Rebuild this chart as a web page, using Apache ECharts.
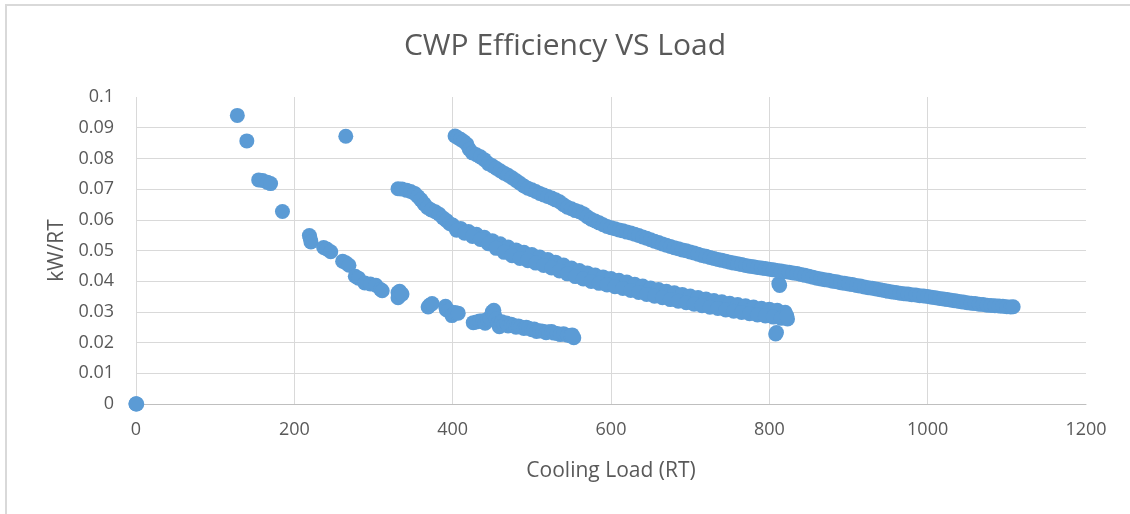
<!DOCTYPE html>
<html>
<head>
<meta charset="utf-8">
<title>CWP Efficiency VS Load</title>
<script src="https://cdn.jsdelivr.net/npm/echarts@6/dist/echarts.min.js"></script>
<style>
  html, body { margin: 0; padding: 0; background: #fff; overflow: hidden; }
  #frame {
    position: absolute; left: 5px; top: 4px; width: 1200px; height: 600px;
    border-top: 2px solid #d9d9d9; border-left: 2px solid #d9d9d9;
  }
  #chart { position: absolute; left: 0; top: 0; width: 1130px; height: 514px; }
</style>
</head>
<body>
<div id="frame"></div>
<div id="chart"></div>
<script>
// [cooling load RT, kW/RT]
var zeroPoints = [[0, 0], [1, 0], [0, 0.0001]]

var lowLoadPoints = [
  [128, 0.0940], [140, 0.0857], [155, 0.0730], [160, 0.0728], [166, 0.0722], [170, 0.0718],
  [185, 0.0627], [219, 0.0549], [220, 0.0540], [221, 0.0528], [237, 0.0510], [241, 0.0505],
  [246, 0.0496], [261, 0.0465], [265, 0.0460], [269, 0.0452], [265, 0.0872], [277, 0.0416],
  [281, 0.0410], [289, 0.0394], [296, 0.0391], [303, 0.0387], [309, 0.0373], [311, 0.0369],
  [331, 0.0363], [333, 0.0367], [331, 0.0346], [336, 0.0358], [369, 0.0316], [371, 0.0322],
  [374, 0.0327], [391, 0.0318], [392, 0.0307], [395, 0.0304], [399, 0.0288], [403, 0.0298],
  [407, 0.0296]
]

var lowCluster = [
  [426, 0.0265], [430, 0.0267], [434, 0.0270], [438, 0.0271], [441, 0.0263], [444, 0.0276],
  [447, 0.0280], [450, 0.0300], [452, 0.0305], [453, 0.0289], [455, 0.0277], [457, 0.0262],
  [459, 0.0252], [462, 0.0268], [465, 0.0259], [468, 0.0264], [470, 0.0254], [474, 0.0260],
  [477, 0.0256], [480, 0.0250], [483, 0.0254], [486, 0.0251], [490, 0.0246], [493, 0.0250],
  [496, 0.0247], [500, 0.0242], [503, 0.0244], [506, 0.0236], [510, 0.0239], [514, 0.0237],
  [518, 0.0232], [521, 0.0235], [525, 0.0236], [528, 0.0231], [532, 0.0230], [536, 0.0226],
  [540, 0.0229], [545, 0.0224], [549, 0.0222], [553, 0.0216], [551, 0.0225]
]

var middleBandStart = [
  [331, 0.0701], [336, 0.0700], [342, 0.0696], [347, 0.0692], [352, 0.0686], [356, 0.0676],
  [360, 0.0665], [364, 0.0652], [368, 0.0640], [373, 0.0632], [378, 0.0626], [383, 0.0618],
  [388, 0.0606], [392, 0.0598], [396, 0.0588]
]

var middleBandTop = [
  [400, 0.0583], [410, 0.0572], [420, 0.0562], [430, 0.0553], [440, 0.0543], [450, 0.0532],
  [460, 0.0522], [470, 0.0511], [480, 0.0502], [490, 0.0494], [500, 0.0487], [510, 0.0479],
  [520, 0.0471], [530, 0.0462], [540, 0.0453], [550, 0.0443], [560, 0.0435], [570, 0.0427],
  [580, 0.0420], [590, 0.0414], [600, 0.0409], [610, 0.0403], [620, 0.0397], [630, 0.0390],
  [640, 0.0384], [650, 0.0378], [660, 0.0373], [670, 0.0367], [680, 0.0362], [690, 0.0357],
  [700, 0.0352], [710, 0.0347], [720, 0.0342], [730, 0.0337], [740, 0.0333], [750, 0.0328],
  [760, 0.0324], [770, 0.0320], [780, 0.0316], [790, 0.0312], [800, 0.0309], [810, 0.0305],
  [820, 0.0299]
]

var middleBandBottom = [
  [405, 0.0566], [415, 0.0556], [425, 0.0546], [435, 0.0536], [445, 0.0522], [455, 0.0507],
  [465, 0.0494], [475, 0.0483], [485, 0.0474], [495, 0.0467], [505, 0.0459], [515, 0.0451],
  [525, 0.0443], [535, 0.0433], [545, 0.0424], [555, 0.0415], [565, 0.0407], [575, 0.0399],
  [585, 0.0393], [595, 0.0388], [605, 0.0382], [615, 0.0376], [625, 0.0370], [635, 0.0363],
  [645, 0.0357], [655, 0.0351], [665, 0.0346], [675, 0.0340], [685, 0.0335], [695, 0.0330],
  [705, 0.0325], [715, 0.0320], [725, 0.0315], [735, 0.0311], [745, 0.0306], [755, 0.0302],
  [765, 0.0298], [775, 0.0294], [785, 0.0290], [795, 0.0287], [805, 0.0283], [815, 0.0279],
  [823, 0.0277], [822, 0.0287], [808, 0.0228], [809, 0.0233]
]

var upperBand = [
  [403, 0.0873], [406, 0.0868], [410, 0.0862], [414, 0.0855], [418, 0.0846], [421, 0.0830],
  [425, 0.0818], [430, 0.0812], [435, 0.0805], [440, 0.0796], [445, 0.0783], [450, 0.0776],
  [455, 0.0768], [460, 0.0760], [465, 0.0752], [470, 0.0745], [475, 0.0737], [480, 0.0728],
  [485, 0.0719], [490, 0.0710], [495, 0.0703], [500, 0.0698], [505, 0.0692], [510, 0.0686],
  [515, 0.0681], [520, 0.0676], [525, 0.0671], [530, 0.0665], [535, 0.0659], [540, 0.0649],
  [545, 0.0641], [550, 0.0636], [555, 0.0630], [560, 0.0626], [565, 0.0620], [570, 0.0610],
  [575, 0.0602], [580, 0.0596], [585, 0.0590], [590, 0.0584], [595, 0.0578], [600, 0.0574],
  [605, 0.0571], [610, 0.0567], [615, 0.0564], [620, 0.0560], [625, 0.0557], [630, 0.0553],
  [635, 0.0549], [640, 0.0544], [645, 0.0540], [650, 0.0535], [655, 0.0530], [660, 0.0526],
  [665, 0.0521], [670, 0.0517], [675, 0.0513], [680, 0.0509], [685, 0.0506], [690, 0.0502],
  [695, 0.0499], [700, 0.0495], [705, 0.0492], [710, 0.0488], [715, 0.0484], [720, 0.0481],
  [725, 0.0477], [730, 0.0474], [735, 0.0471], [740, 0.0468], [745, 0.0465], [750, 0.0462],
  [755, 0.0459], [760, 0.0457], [765, 0.0454], [770, 0.0451], [775, 0.0449], [780, 0.0447],
  [785, 0.0445], [790, 0.0443], [795, 0.0441], [800, 0.0439], [805, 0.0437], [810, 0.0435],
  [812, 0.0392], [813, 0.0386], [815, 0.0433], [820, 0.0431], [825, 0.0429], [830, 0.0427],
  [835, 0.0425], [840, 0.0422], [845, 0.0419], [850, 0.0416], [855, 0.0413], [860, 0.0410],
  [865, 0.0407], [870, 0.0405], [875, 0.0403], [880, 0.0400], [885, 0.0398], [890, 0.0395],
  [895, 0.0393], [900, 0.0391], [905, 0.0389], [910, 0.0386], [915, 0.0384], [920, 0.0381],
  [925, 0.0379], [930, 0.0377], [935, 0.0375], [940, 0.0372], [945, 0.0370], [950, 0.0367],
  [955, 0.0365], [960, 0.0363], [965, 0.0361], [970, 0.0359], [975, 0.0358], [980, 0.0356],
  [985, 0.0355], [990, 0.0353], [995, 0.0352], [1000, 0.0350], [1005, 0.0348], [1010, 0.0346],
  [1015, 0.0344], [1020, 0.0342], [1025, 0.0340], [1030, 0.0338], [1035, 0.0336], [1040, 0.0334],
  [1045, 0.0332], [1050, 0.0330], [1055, 0.0328], [1060, 0.0327], [1065, 0.0325], [1070, 0.0324],
  [1075, 0.0322], [1080, 0.0321], [1085, 0.0320], [1090, 0.0319], [1095, 0.0318], [1100, 0.0317],
  [1105, 0.0316], [1108, 0.0317]
]

var textColor = '#595959'
var gridColor = '#d9d9d9'

var allPoints = [].concat(zeroPoints, lowLoadPoints, lowCluster, middleBandStart,
  middleBandTop, middleBandBottom, upperBand)

var myChart = echarts.init(document.getElementById('chart'))
myChart.setOption({
  animation: false,
  textStyle: { fontFamily: '"Open Sans", sans-serif' },
  title: {
    text: 'CWP Efficiency VS Load',
    left: 'center',
    top: 26,
    textStyle: { fontSize: 30, fontWeight: 'normal', color: textColor }
  },
  grid: { left: 136, right: 44, top: 97, bottom: 110 },
  xAxis: {
    type: 'value',
    min: 0,
    max: 1200,
    interval: 200,
    name: 'Cooling Load (RT)',
    nameLocation: 'middle',
    nameGap: 57,
    nameTextStyle: { fontSize: 21, color: textColor },
    axisLine: { show: true, lineStyle: { color: '#bfbfbf', width: 1 } },
    axisTick: { show: false },
    axisLabel: {
      color: textColor,
      fontSize: 18,
      margin: 17,
      formatter: function (v) { return String(v) }
    },
    splitLine: { show: true, showMaxLine: false, lineStyle: { color: gridColor } }
  },
  yAxis: {
    type: 'value',
    min: 0,
    max: 0.1,
    interval: 0.01,
    name: 'kW/RT',
    nameLocation: 'middle',
    nameGap: 68,
    nameTextStyle: { fontSize: 21, color: textColor },
    axisLine: { show: false },
    axisTick: { show: false },
    axisLabel: { color: textColor, fontSize: 18, margin: 22 },
    splitLine: { show: true, showMaxLine: false, lineStyle: { color: gridColor } }
  },
  series: [{
    type: 'scatter',
    symbolSize: 15,
    itemStyle: { color: '#5b9bd5', opacity: 1 },
    data: allPoints
  }]
})
</script>
</body>
</html>
